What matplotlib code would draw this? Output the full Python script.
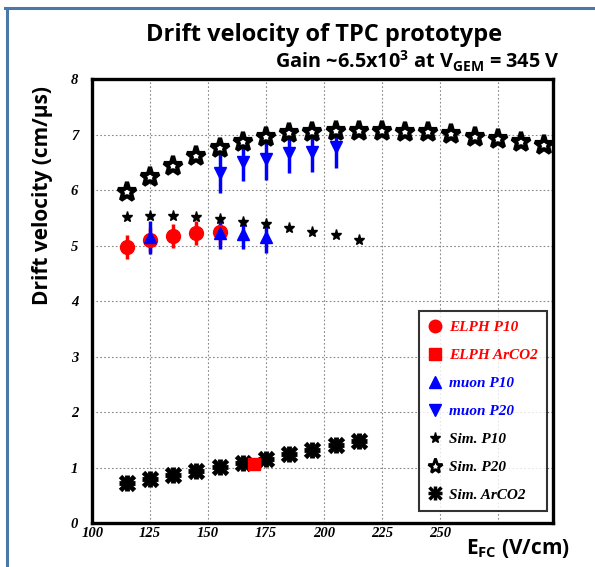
import matplotlib
matplotlib.use('Agg')
import matplotlib.pyplot as plt
from matplotlib.lines import Line2D
import numpy as np

# sim P20 (open stars)
sim_p20_x = [115, 125, 135, 145, 155, 165, 175, 185, 195, 205, 215, 225, 235, 245, 255, 265, 275, 285, 295]
sim_p20_y = [5.96, 6.23, 6.43, 6.61, 6.76, 6.86, 6.95, 7.02, 7.04, 7.06, 7.07, 7.07, 7.05, 7.04, 7.01, 6.96, 6.92, 6.87, 6.82]

# sim P10 (small stars)
sim_p10_x = [115, 125, 135, 145, 155, 165, 175, 185, 195, 205, 215]
sim_p10_y = [5.51, 5.53, 5.53, 5.52, 5.48, 5.42, 5.39, 5.32, 5.24, 5.19, 5.10]

# sim ArCO2
sim_arco2_x = [115, 125, 135, 145, 155, 165, 175, 185, 195, 205, 215]
sim_arco2_y = [0.72, 0.79, 0.86, 0.93, 1.01, 1.08, 1.16, 1.24, 1.31, 1.40, 1.47]

# ELPH measurements
elph_p10_x = [115, 125, 135, 145, 155]
elph_p10_y = [4.97, 5.10, 5.17, 5.23, 5.24]
elph_p10_err = [0.22, 0.22, 0.22, 0.22, 0.22]
elph_arco2_x = [170]
elph_arco2_y = [1.06]

# muon measurements
muon_p10_x = [125, 155, 165, 175]
muon_p10_y = [5.15, 5.22, 5.20, 5.16]
muon_p10_err = [0.30, 0.28, 0.27, 0.29]
muon_p20_x = [155, 165, 175, 185, 195, 205]
muon_p20_y = [6.31, 6.50, 6.56, 6.66, 6.68, 6.78]
muon_p20_err = [0.36, 0.33, 0.38, 0.36, 0.36, 0.38]

xticks = [100, 125, 150, 175, 200, 225, 250, 275]
xticklabels = ['100', '125', '150', '175', '200', '225', '250', '']
yticks = [0, 1, 2, 3, 4, 5, 6, 7, 8]

sans = ['Open Sans', 'DejaVu Sans']
serif = 'Liberation Serif'
plt.rcParams['mathtext.default'] = 'regular'

fig = plt.figure(figsize=(5.95, 5.67), dpi=100)
ax = fig.add_axes([0.155, 0.0776, 0.775, 0.783])

ax.set_xlim(100, 299)
ax.set_ylim(0, 8)
ax.set_xticks(xticks)
ax.set_xticklabels(xticklabels)
ax.set_yticks(yticks)
for lab in ax.get_xticklabels() + ax.get_yticklabels():
    lab.set_family(serif)
    lab.set_style('italic')
    lab.set_weight('bold')
    lab.set_fontsize(10.5)
ax.tick_params(axis='both', length=0)
ax.tick_params(axis='y', pad=10)
ax.tick_params(axis='x', pad=3)
ax.grid(True, linestyle=(0, (1.5, 2)), color='#888888', linewidth=0.8)
ax.set_axisbelow(True)
for s in ax.spines.values():
    s.set_linewidth(2.4)

# error bars
ax.errorbar(elph_p10_x, elph_p10_y, yerr=elph_p10_err, fmt='none', ecolor='red', elinewidth=2.5, capsize=0, zorder=3)
ax.errorbar(muon_p10_x, muon_p10_y, yerr=muon_p10_err, fmt='none', ecolor='blue', elinewidth=2.5, capsize=0, zorder=3)
ax.errorbar(muon_p20_x, muon_p20_y, yerr=muon_p20_err, fmt='none', ecolor='blue', elinewidth=2.5, capsize=0, zorder=3)

ax.plot(sim_p20_x, sim_p20_y, ls='none', marker='*', ms=14, mfc='white', mec='black', mew=3, zorder=4)
ax.plot(sim_p10_x, sim_p10_y, ls='none', marker='*', ms=8, color='black', zorder=4)
ax.plot(sim_arco2_x, sim_arco2_y, ls='none', marker='+', ms=11, color='black', mew=3.5, zorder=4)
ax.plot(sim_arco2_x, sim_arco2_y, ls='none', marker='x', ms=10, color='black', mew=3.5, zorder=4)
ax.plot(elph_p10_x, elph_p10_y, ls='none', marker='o', ms=10, color='red', zorder=5)
ax.plot(elph_arco2_x, elph_arco2_y, ls='none', marker='s', ms=8, color='red', zorder=5)
ax.plot(muon_p10_x, muon_p10_y, ls='none', marker='^', ms=9, color='blue', zorder=5)
ax.plot(muon_p20_x, muon_p20_y, ls='none', marker='v', ms=9, color='blue', zorder=5)

handles = [
    Line2D([], [], ls='none', marker='o', ms=9, color='red'),
    Line2D([], [], ls='none', marker='s', ms=8, color='red'),
    Line2D([], [], ls='none', marker='^', ms=9, color='blue'),
    Line2D([], [], ls='none', marker='v', ms=9, color='blue'),
    Line2D([], [], ls='none', marker='*', ms=8, color='black'),
    Line2D([], [], ls='none', marker='*', ms=11, mfc='white', mec='black', mew=2),
    (Line2D([], [], ls='none', marker='+', ms=10, color='black', mew=2.5),
     Line2D([], [], ls='none', marker='x', ms=9, color='black', mew=2.5)),
]
labels = ['ELPH P10', 'ELPH ArCO2', 'muon P10', 'muon P20', 'Sim. P10', 'Sim. P20', 'Sim. ArCO2']
colors = ['red', 'red', 'blue', 'blue', 'black', 'black', 'black']
leg = ax.legend(handles, labels, loc='lower right', bbox_to_anchor=(1.003, 0.01),
                prop={'family': serif, 'style': 'italic', 'weight': 'bold', 'size': 11},
                labelspacing=0.93, handlelength=1.0, handletextpad=0.4, borderpad=0.6,
                frameon=True, fancybox=False, edgecolor='black')
leg.get_frame().set_linewidth(1.5)
for t, c in zip(leg.get_texts(), colors):
    t.set_color(c)

fig.text(0.545, 0.938, 'Drift velocity of TPC prototype', ha='center', va='center',
         family=sans, weight='bold', fontsize=17)
fig.text(0.94, 0.891, 'Gain ~6.5x10$^3$ at V$_{GEM}$ = 345 V', ha='right', va='center',
         family=sans, weight='bold', fontsize=14.3)
fig.text(0.072, 0.655, 'Drift velocity (cm/\u03bcs)', ha='center', va='center', rotation=90,
         family=sans, weight='bold', fontsize=15)
fig.text(0.87, 0.032, 'E$_{FC}$ (V/cm)', ha='center', va='center',
         family=sans, weight='bold', fontsize=15)

# blue page frame
frame_col = '#4a78a8'
fig.add_artist(Line2D([0.012, 0.012], [0.0, 0.986], transform=fig.transFigure, color=frame_col, lw=2.2))
fig.add_artist(Line2D([0.009, 1.0], [0.986, 0.986], transform=fig.transFigure, color=frame_col, lw=2.2))

fig.savefig('out.png', dpi=100)
